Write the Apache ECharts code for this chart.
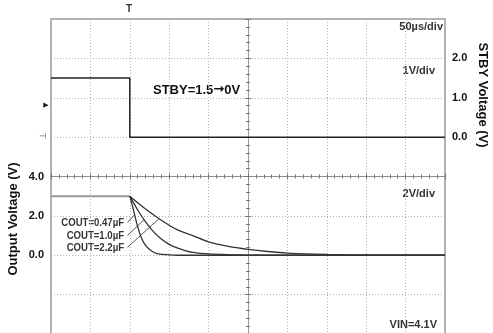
<!DOCTYPE html>
<html>
<head>
<meta charset="utf-8">
<script src="https://cdn.jsdelivr.net/npm/echarts@6/dist/echarts.min.js"></script>
<style>
html,body{margin:0;padding:0;background:#fff;}
#chart{width:493px;height:333px;}
</style>
</head>
<body>
<div id="chart"></div>
<script>
// ---- data (time in µs, voltage in V) ----
const stbyTime = [-100, 0, 0, 400];
const stbyVolt = [1.5, 1.5, 0, 0];
const flatTime = [-100, 0];
const flatVolt = [3.0, 3.0];
const t047 = [0, 4, 8, 14, 20, 28, 36, 50, 60, 400];
const v047 = [3.0, 2.4, 1.75, 0.95, 0.5, 0.2, 0.07, 0.02, 0, 0];
const t10 = [0, 10, 20, 30, 40, 50, 60, 70, 80, 100, 125, 150, 200, 400];
const v10 = [3.0, 2.3, 1.7, 1.2, 0.82, 0.55, 0.37, 0.24, 0.15, 0.07, 0.03, 0.01, 0, 0];
const t22 = [0, 20, 40, 60, 80, 100, 125, 150, 175, 200, 250, 300, 400];
const v22 = [3.0, 2.35, 1.78, 1.3, 1.0, 0.68, 0.45, 0.3, 0.19, 0.11, 0.04, 0.01, 0];
const coutLabels = ['COUT=0.47µF', 'COUT=1.0µF', 'COUT=2.2µF'];
const leaderStartT = [-3, -3, -3];
const leaderStartV = [1.66, 1.0, 0.40];
const leaderEndT = [6, 18, 37];
const leaderEndV = [2.05, 1.8, 1.85];
const outputTickLabels = [0, 2, 4];
const stbyTickLabels = [0, 1, 2];

const zip = (a, b) => a.map((x, i) => [x, b[i]]);
const BOLD = 'bold 11px "Liberation Sans", Arial, sans-serif';

const chart = echarts.init(document.getElementById('chart'), null, {renderer: 'canvas'});

const dotted = {show: true, lineStyle: {color: '#b0b0b0', type: [1, 2], width: 1}};
const centerX = (inside) => ({
  type: 'value', min: -5, max: 5, interval: 1, gridIndex: 0,
  axisLine: {show: true, onZero: true, onZeroAxisIndex: 2, lineStyle: {color: '#888', width: 1, type: [2, 1]}},
  axisTick: {show: true, inside: inside, length: 3, lineStyle: {color: '#777'}},
  minorTick: {show: true, splitNumber: 5, length: 2, lineStyle: {color: '#777'}},
  axisLabel: {show: false}, splitLine: {show: false}
});
const centerY = (inside) => ({
  type: 'value', min: -4, max: 4, interval: 1, gridIndex: 0,
  axisLine: {show: true, onZero: true, onZeroAxisIndex: 1, lineStyle: {color: '#999', width: 1, type: [2, 1]}},
  axisTick: {show: true, inside: inside, length: 3, lineStyle: {color: '#777'}},
  minorTick: {show: true, splitNumber: 5, length: 2, lineStyle: {color: '#777'}},
  axisLabel: {show: false}, splitLine: {show: false}
});

const graphics = [
  {type: 'text', x: 443, y: 27, style: {text: '50µs/div', font: BOLD, fill: '#333', align: 'right', verticalAlign: 'middle'}},
  {type: 'text', x: 435, y: 71, style: {text: '1V/div', font: BOLD, fill: '#333', align: 'right', verticalAlign: 'middle'}},
  {type: 'text', x: 435, y: 194, style: {text: '2V/div', font: BOLD, fill: '#333', align: 'right', verticalAlign: 'middle'}},
  {type: 'text', x: 437, y: 325, style: {text: 'VIN=4.1V', font: BOLD, fill: '#333', align: 'right', verticalAlign: 'middle'}},
  {type: 'text', x: 153, y: 90, style: {
    text: '{a|STBY=1.5}{b|→}{a|0V}', align: 'left', verticalAlign: 'middle',
    rich: {
      a: {fontFamily: '"Liberation Sans", Arial, sans-serif', fontWeight: 'bold', fontSize: 13, fill: '#111'},
      b: {fontFamily: '"DejaVu Sans", sans-serif', fontWeight: 'bold', fontSize: 13, fill: '#111'}
    }}},
  {type: 'text', x: 13, y: 219, rotation: Math.PI / 2, style: {text: 'Output Voltage (V)', font: 'bold 13px "Liberation Sans", Arial, sans-serif', fill: '#111', align: 'center', verticalAlign: 'middle'}},
  {type: 'text', x: 483, y: 95, rotation: -Math.PI / 2, style: {text: 'STBY Voltage (V)', font: 'bold 13px "Liberation Sans", Arial, sans-serif', fill: '#111', align: 'center', verticalAlign: 'middle'}},
  {type: 'text', x: 129, y: 9, style: {text: 'T', font: 'bold 10px "Liberation Sans", Arial, sans-serif', fill: '#333', align: 'center', verticalAlign: 'middle'}},
  {type: 'text', x: 46, y: 105, style: {text: '▶', font: '7px "DejaVu Sans", sans-serif', fill: '#222', align: 'center', verticalAlign: 'middle'}},
  {type: 'text', x: 43, y: 137, style: {text: '⊣', font: '9px "DejaVu Sans", sans-serif', fill: '#777', align: 'center', verticalAlign: 'middle'}}
];
coutLabels.forEach((txt, i) => {
  graphics.push({type: 'text', x: 124, y: [223, 236, 248][i], scaleX: 0.87,
    style: {text: txt, font: 'bold 11px "Liberation Sans", Arial, sans-serif', fill: '#333', align: 'right', verticalAlign: 'middle'}});
});

const option = {
  animation: false,
  backgroundColor: '#fff',
  grid: {left: 51, top: 19, width: 394, height: 315, show: true, borderColor: '#999', borderWidth: 1.5, backgroundColor: '#fff', outerBoundsMode: 'none', containLabel: false},
  xAxis: [
    {type: 'value', min: -100, max: 400, interval: 50,
     axisLine: {show: false, onZero: false}, axisTick: {show: false}, axisLabel: {show: false}, splitLine: dotted},
    centerX(true),
    centerX(false)
  ],
  yAxis: [
    {type: 'value', position: 'left', min: -4, max: 12, interval: 2,
     axisLine: {show: false, onZero: false}, axisTick: {show: false}, splitLine: dotted,
     axisLabel: {show: true, margin: 7, color: '#111', fontSize: 11, fontWeight: 'bold', fontFamily: '"Liberation Sans", Arial, sans-serif',
       formatter: v => outputTickLabels.indexOf(v) >= 0 ? v.toFixed(1) : ''}},
    {type: 'value', position: 'right', min: -5, max: 3, interval: 1,
     axisLine: {show: false, onZero: false}, axisTick: {show: false}, splitLine: {show: false},
     axisLabel: {show: true, margin: 7, color: '#111', fontSize: 11, fontWeight: 'bold', fontFamily: '"Liberation Sans", Arial, sans-serif',
       formatter: v => stbyTickLabels.indexOf(v) >= 0 ? v.toFixed(1) : ''}},
    centerY(true),
    centerY(false)
  ],
  series: [
    {type: 'line', name: 'STBY', xAxisIndex: 0, yAxisIndex: 1, data: zip(stbyTime, stbyVolt), showSymbol: false,
     lineStyle: {color: '#222', width: 1.5}},
    {type: 'line', name: 'VOUT', xAxisIndex: 0, yAxisIndex: 0, data: zip(flatTime, flatVolt), showSymbol: false,
     lineStyle: {color: '#999', width: 2}},
    {type: 'line', name: coutLabels[0], xAxisIndex: 0, yAxisIndex: 0, data: zip(t047, v047), showSymbol: false, smooth: 0.3,
     lineStyle: {color: '#333', width: 1.3}},
    {type: 'line', name: coutLabels[1], xAxisIndex: 0, yAxisIndex: 0, data: zip(t10, v10), showSymbol: false, smooth: 0.3,
     lineStyle: {color: '#333', width: 1.3}},
    {type: 'line', name: coutLabels[2], xAxisIndex: 0, yAxisIndex: 0, data: zip(t22, v22), showSymbol: false, smooth: 0.3,
     lineStyle: {color: '#333', width: 1.3}},
    {type: 'lines', coordinateSystem: 'cartesian2d', xAxisIndex: 0, yAxisIndex: 0, silent: true,
     lineStyle: {color: '#555', width: 1, opacity: 1},
     data: leaderStartT.map((t, i) => ({coords: [[t, leaderStartV[i]], [leaderEndT[i], leaderEndV[i]]]}))}
  ],
  graphic: graphics
};
chart.setOption(option);
</script>
</body>
</html>
